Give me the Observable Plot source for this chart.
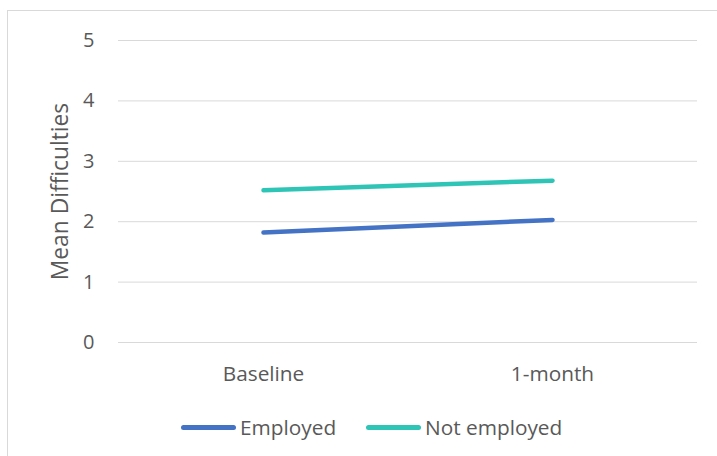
<!DOCTYPE html>
<html>
<head>
<meta charset="utf-8">
<script src="https://cdn.jsdelivr.net/npm/d3@7"></script>
<script src="https://cdn.jsdelivr.net/npm/@observablehq/plot@0.6"></script>
<style>
  html, body { margin: 0; padding: 0; background: #ffffff; }
  #frame {
    position: absolute; left: 7px; top: 10px; width: 720px; height: 460px;
    border: 1px solid #d9d9d9; box-sizing: border-box; background: #fff;
    font-family: "Open Sans", sans-serif; color: #595959;
  }
  #legend {
    position: absolute; top: 402px; left: 0; width: 100%;
    font-size: 20.8px; color: #595959;
  }
  .item { position: absolute; display: flex; align-items: center; }
  .swatch { width: 55px; height: 5px; border-radius: 3px; margin-right: 4px; }
</style>
</head>
<body>
<div id="frame">
  <div id="chart"></div>
  <div id="legend"></div>
</div>
<script>
// Time points and group means
const timepoints = ["Baseline", "1-month"];
const groups = ["Employed", "Not employed"];
const employed = [1.82, 2.03];
const notEmployed = [2.52, 2.68];
const yTicks = [0, 1, 2, 3, 4, 5];
const colors = ["#4472c4", "#2ec4b6"];

const rows = [
  ...timepoints.map((t, i) => ({time: t, group: groups[0], value: employed[i]})),
  ...timepoints.map((t, i) => ({time: t, group: groups[1], value: notEmployed[i]}))
];

const chart = Plot.plot({
  width: 718,
  height: 381,
  marginLeft: 110,
  marginRight: 29,
  marginTop: 29,
  marginBottom: 50,
  style: {fontFamily: "'Open Sans', sans-serif", fontSize: "19px", color: "#595959", background: "#fff"},
  x: {type: "point", domain: timepoints, padding: 0.5},
  y: {domain: [0, 5]},
  color: {domain: groups, range: colors},
  marks: [
    Plot.gridY(yTicks, {stroke: "#d9d9d9", strokeOpacity: 1, strokeWidth: 1}),
    Plot.axisY(yTicks, {tickSize: 0, tickPadding: 24, tickFormat: d3.format("d"), label: null, fontSize: 20, fill: "#595959"}),
    Plot.axisY({tickSize: 0, ticks: [], label: "Mean Difficulties", labelAnchor: "center", labelOffset: 67, labelArrow: "none", fontSize: 22.8, fill: "#595959"}),
    Plot.axisX({tickSize: 0, tickPadding: 24, label: null, fontSize: 20.8, fill: "#595959"}),
    Plot.line(rows, {x: "time", y: "value", z: "group", stroke: "group", strokeWidth: 4.5, strokeLinecap: "round"})
  ]
});
document.getElementById("chart").appendChild(chart);

// Legend below the plot
const legend = document.getElementById("legend");
const legendX = [173, 358];
groups.forEach((g, i) => {
  const item = document.createElement("div");
  item.className = "item";
  item.style.left = legendX[i] + "px";
  const sw = document.createElement("span");
  sw.className = "swatch";
  sw.style.background = colors[i];
  const label = document.createElement("span");
  label.textContent = g;
  item.appendChild(sw);
  item.appendChild(label);
  legend.appendChild(item);
});
</script>
</body>
</html>
